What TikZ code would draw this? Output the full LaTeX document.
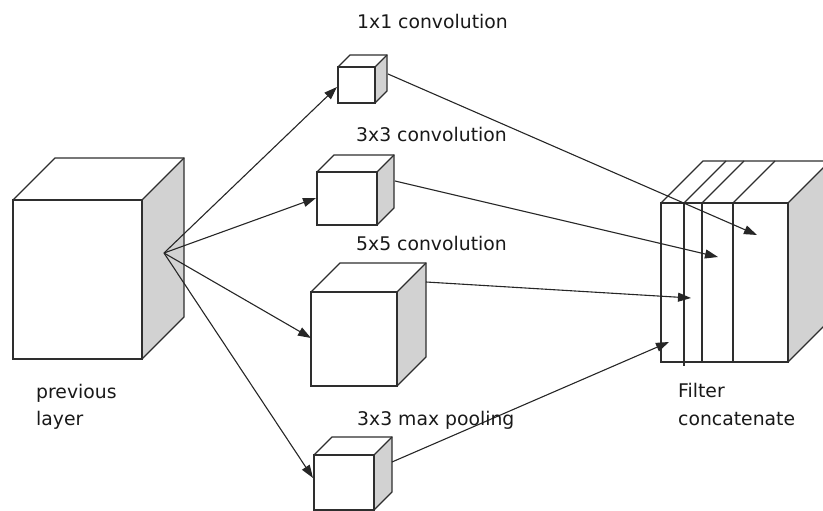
\documentclass[tikz,border=0pt]{standalone}
\usepackage{fontspec}
\setmainfont{DejaVu Sans}
\usetikzlibrary{arrows.meta}
\definecolor{edgeclr}{HTML}{2E2E2E}
\definecolor{sideclr}{HTML}{D2D2D2}
\tikzset{
  edgeline/.style={draw=edgeclr, line width=1.2pt, line join=miter},
  face/.style={draw=edgeclr, line width=1.2pt, fill=white, inner sep=0pt, outer sep=0pt},
  arr/.style={draw=black!85, line width=1.1pt, -{Triangle[length=13pt,width=9pt]}},
  lbl/.style={anchor=base west, inner sep=0pt, font=\fontsize{18.8}{28}\selectfont, text=black!90},
}
% solid box: name, x, y (front top-left), width, height, depth
\newcommand\solidcube[6]{%
  \fill[sideclr] (#2+#4,#3) -- ++(#6,-#6) -- ++(0,#5) -- ++(-#6,#6) -- cycle;
  \draw[edgeline] (#2,#3) -- ++(#6,-#6) -- ++(#4,0) -- ++(0,#5) -- ++(-#6,#6);
  \draw[edgeline] (#2+#4,#3) -- ++(#6,-#6);
  \node[face, minimum width=#4pt, minimum height=#5pt, anchor=north west] (#1) at (#2,#3) {};
}
\begin{document}
\begin{tikzpicture}[x=1pt,y=-1pt]
\useasboundingbox (0,0) rectangle (823,511);
\clip (0,0) rectangle (823,511);

% input block and the four branches
\solidcube{prev}{13}{200}{129}{159}{42}
\solidcube{cA}{338}{67}{37}{36}{12}
\solidcube{cB}{317}{172}{60}{53}{17}
\solidcube{cC}{311}{292}{86}{94}{29}
\solidcube{cD}{314}{455}{60}{55}{18}

% concatenated output block
\fill[sideclr] (788,203) -- ++(42,-42) -- ++(0,159) -- ++(-42,42) -- cycle;
\draw[edgeline] (661,203) -- ++(42,-42) -- ++(127,0) -- ++(0,159) -- ++(-42,42);
\draw[edgeline] (788,203) -- ++(42,-42);
\node[face, minimum width=127pt, minimum height=159pt, anchor=north west] (cat) at (661,203) {};
\draw[edgeline] (684,203) -- (684,366) (702,203) -- (702,362) (733,203) -- (733,362);
\draw[edgeline] (684,203) -- ++(42,-42) (702,203) -- ++(42,-42) (733,203) -- ++(42,-42);

% connector end points
\coordinate (src) at (164,253);
\coordinate (inA) at (337,87);
\coordinate (inB) at (316,198);
\coordinate (inC) at (311,338);
\coordinate (inD) at (313,478);
\coordinate (outA) at (388,74);
\coordinate (outB) at (395,181);
\coordinate (outC) at (426,282);
\coordinate (outD) at (392,462);
\coordinate (catA) at (757,235);
\coordinate (catB) at (718,257);
\coordinate (catC) at (691,298);
\coordinate (catD) at (669,342);

\draw[arr] (src) -- (inA);
\draw[arr] (src) -- (inB);
\draw[arr] (src) -- (inC);
\draw[arr] (src) -- (inD);
\draw[arr] (outA) -- (catA);
\draw[arr] (outB) -- (catB);
\draw[arr] (outC) -- (catC);
\draw[arr] (outD) -- (catD);

% labels
\node[lbl] (tA) at (357,29) {1x1 convolution};
\node[lbl] (tB) at (356,142) {3x3 convolution};
\node[lbl] (tC) at (356,250) {5x5 convolution};
\node[lbl] (tD) at (357,425) {3x3 max pooling};
\node[lbl] (tP1) at (36,398) {previous};
\node[lbl] (tP2) at (36,425) {layer};
\node[lbl] (tF1) at (678,397) {Filter};
\node[lbl] (tF2) at (678,425) {concatenate};
\end{tikzpicture}
\end{document}
